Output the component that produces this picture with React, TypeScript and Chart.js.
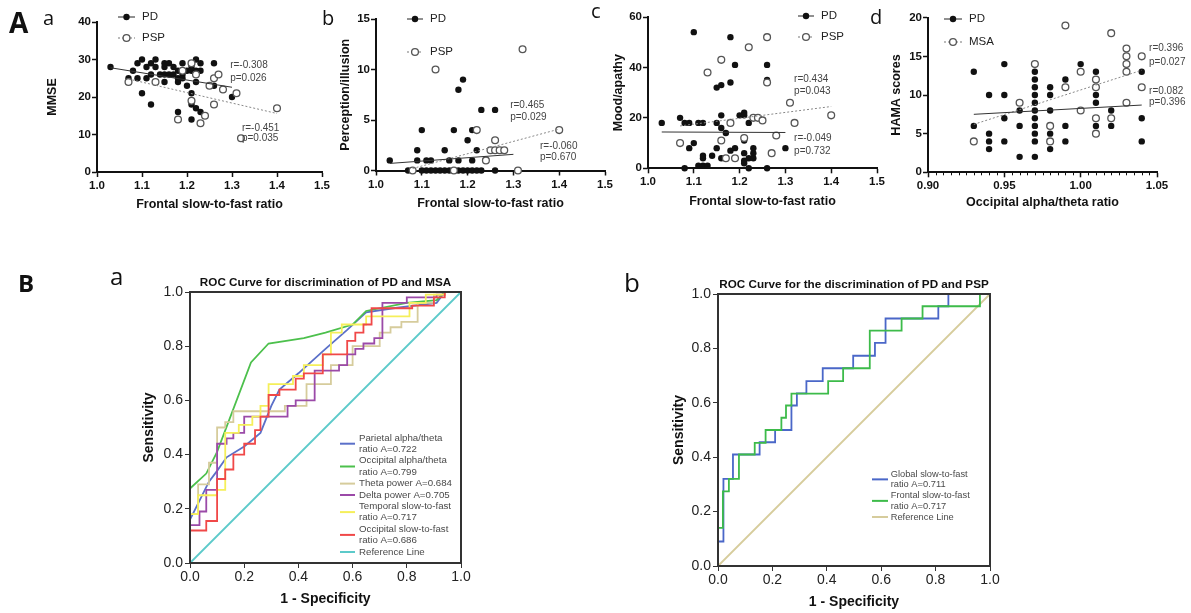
import React, { useEffect, useRef } from 'react';
import { Chart, registerables } from 'chart.js';

Chart.register(...registerables);

const W = 1191;
const H = 613;
const FONT = '"Liberation Sans", Arial, Helvetica, sans-serif';
const LETTER_FONT = '"Open Sans", "Noto Sans", sans-serif';

// ---------------- Panel A-a : MMSE ----------------
const aPD = [
  [1.03, 28], [1.07, 25], [1.08, 27], [1.09, 29], [1.09, 25], [1.10, 30], [1.10, 21],
  [1.11, 28], [1.11, 25], [1.12, 29], [1.12, 26], [1.12, 18], [1.13, 30], [1.13, 28],
  [1.14, 26], [1.15, 29], [1.15, 28], [1.15, 26], [1.15, 24], [1.16, 29], [1.16, 26],
  [1.17, 28], [1.17, 26], [1.18, 27], [1.18, 25], [1.18, 24], [1.18, 16], [1.19, 29],
  [1.19, 26], [1.19, 25], [1.20, 27], [1.20, 23], [1.21, 28], [1.21, 27], [1.21, 21],
  [1.21, 18], [1.21, 14], [1.22, 30], [1.22, 27], [1.22, 24], [1.22, 17], [1.23, 29],
  [1.23, 27], [1.23, 16], [1.26, 29], [1.26, 23], [1.30, 20],
];
const aPSP = [
  [1.07, 24], [1.13, 24], [1.18, 14], [1.19, 27], [1.21, 29], [1.21, 19], [1.22, 26],
  [1.23, 13], [1.24, 15], [1.25, 23], [1.26, 25], [1.26, 18], [1.27, 26], [1.28, 22],
  [1.31, 21], [1.32, 9], [1.40, 17],
];
const aPDFit = [[1.03, 27.8], [1.30, 22.6]];
const aPSPFit = [[1.07, 24.8], [1.40, 15.6]];
const aNotes = [
  { x: 1.296, y: 28.5, text: 'r=-0.308' },
  { x: 1.296, y: 25.1, text: 'p=0.026' },
  { x: 1.322, y: 11.7, text: 'r=-0.451' },
  { x: 1.322, y: 9.0, text: 'p=0.035' },
];

// ---------------- Panel A-b : Perception/illusion ----------------
const bPD = [
  [1.03, 1], [1.07, 0], [1.08, 0], [1.09, 1], [1.09, 2], [1.10, 4], [1.10, 0], [1.11, 1],
  [1.12, 1], [1.11, 0], [1.12, 0], [1.13, 0], [1.14, 0], [1.15, 0], [1.15, 2], [1.16, 1],
  [1.16, 0], [1.17, 4], [1.18, 8], [1.18, 1], [1.18, 0], [1.19, 9], [1.19, 0], [1.20, 3],
  [1.20, 0], [1.21, 4], [1.21, 1], [1.21, 0], [1.22, 2], [1.22, 0], [1.23, 6], [1.23, 0],
  [1.26, 6], [1.26, 0],
];
const bPSP = [
  [1.08, 0], [1.13, 10], [1.17, 0], [1.22, 4], [1.24, 1], [1.25, 2], [1.26, 2], [1.26, 3],
  [1.27, 2], [1.28, 2], [1.31, 0], [1.32, 12], [1.40, 4],
];
const bPDFit = [[1.03, 0.7], [1.30, 1.6]];
const bPSPFit = [[1.08, 0.2], [1.40, 4.1]];
const bNotes = [
  { x: 1.293, y: 6.5, text: 'r=0.465' },
  { x: 1.293, y: 5.3, text: 'p=0.029' },
  { x: 1.358, y: 2.45, text: 'r=-0.060' },
  { x: 1.358, y: 1.35, text: 'p=0.670' },
];

// ---------------- Panel A-c : Mood/apathy ----------------
const cPD = [
  [1.03, 18], [1.07, 20], [1.08, 18], [1.08, 0], [1.09, 18], [1.09, 8], [1.10, 54], [1.10, 10],
  [1.11, 18], [1.12, 18], [1.11, 1], [1.12, 1], [1.13, 1], [1.12, 4], [1.12, 5], [1.14, 5],
  [1.15, 8], [1.15, 18], [1.15, 32], [1.16, 33], [1.16, 21], [1.16, 16], [1.17, 14], [1.16, 4],
  [1.17, 4], [1.18, 34], [1.18, 52], [1.19, 41], [1.18, 7], [1.19, 8], [1.20, 21], [1.21, 22],
  [1.21, 21], [1.21, 11], [1.21, 6], [1.21, 3], [1.21, 2], [1.22, 18], [1.22, 0], [1.23, 8],
  [1.23, 6], [1.22, 4], [1.23, 4], [1.26, 41], [1.26, 35], [1.26, 0], [1.30, 8],
];
const cPSP = [
  [1.07, 10], [1.13, 38], [1.16, 43], [1.16, 11], [1.17, 4], [1.18, 18], [1.19, 4], [1.21, 12],
  [1.22, 48], [1.23, 20], [1.24, 20], [1.25, 19], [1.26, 52], [1.26, 34], [1.27, 6], [1.28, 13],
  [1.31, 26], [1.32, 18], [1.40, 21],
];
const cPDFit = [[1.03, 14.4], [1.30, 14.2]];
const cPSPFit = [[1.07, 16.8], [1.40, 24.5]];
const cNotes = [
  { x: 1.319, y: 35.5, text: 'r=0.434' },
  { x: 1.319, y: 30.7, text: 'p=0.043' },
  { x: 1.319, y: 12.0, text: 'r=-0.049' },
  { x: 1.319, y: 6.9, text: 'p=0.732' },
];

// ---------------- Panel A-d : HAMA scores ----------------
const dPD = [
  [0.93, 13], [0.93, 6],
  [0.94, 10], [0.94, 5], [0.94, 4], [0.94, 3],
  [0.95, 14], [0.95, 10], [0.95, 7], [0.95, 4],
  [0.96, 8], [0.96, 6], [0.96, 2],
  [0.97, 13], [0.97, 12], [0.97, 11], [0.97, 10], [0.97, 9], [0.97, 8], [0.97, 7], [0.97, 6],
  [0.97, 5], [0.97, 4], [0.97, 2],
  [0.98, 11], [0.98, 10], [0.98, 8], [0.98, 6], [0.98, 5], [0.98, 4], [0.98, 3],
  [0.99, 12], [0.99, 6], [0.99, 4],
  [1.00, 14],
  [1.01, 13], [1.01, 12], [1.01, 10], [1.01, 9], [1.01, 7], [1.01, 6],
  [1.02, 8], [1.02, 6],
  [1.04, 13], [1.04, 7], [1.04, 4],
];
const dMSA = [
  [0.93, 4], [0.96, 9], [0.97, 14], [0.98, 6], [0.98, 4], [0.99, 19], [0.99, 11],
  [1.00, 13], [1.00, 8], [1.01, 12], [1.01, 11], [1.01, 7], [1.01, 5], [1.02, 18], [1.02, 7],
  [1.03, 16], [1.03, 15], [1.03, 14], [1.03, 13], [1.03, 9], [1.04, 15], [1.04, 11],
];
const dPDFit = [[0.93, 7.5], [1.04, 8.7]];
const dMSAFit = [[0.93, 6.2], [1.04, 13.2]];
const dNotes = [
  { x: 1.0448, y: 16.0, text: 'r=0.396' },
  { x: 1.0448, y: 14.3, text: 'p=0.027' },
  { x: 1.0448, y: 10.5, text: 'r=0.082' },
  { x: 1.0448, y: 9.0, text: 'p=0.396' },
];

// ---------------- Panel B-a : ROC PD vs MSA ----------------
const rocMsaParietal = [
  [0, 0], [0, 0.16], [0.03, 0.22], [0.07, 0.3], [0.1, 0.34], [0.135, 0.39], [0.2, 0.43],
  [0.26, 0.48], [0.3, 0.58], [0.33, 0.64], [0.4, 0.7], [0.5, 0.79], [0.58, 0.86],
  [0.65, 0.925], [0.75, 0.94], [0.91, 0.96], [0.94, 1], [1, 1],
];
const rocMsaOccAlpha = [
  [0, 0], [0, 0.275], [0.06, 0.33], [0.1, 0.41], [0.225, 0.74], [0.29, 0.81], [0.42, 0.83],
  [0.5, 0.85], [0.6, 0.88], [0.65, 0.93], [0.8, 0.96], [0.91, 0.97], [0.94, 1], [1, 1],
];
const rocMsaTheta = [
  [0, 0], [0, 0.18], [0.03, 0.29], [0.07, 0.37], [0.1, 0.5], [0.13, 0.52], [0.16, 0.56],
  [0.35, 0.58], [0.43, 0.66], [0.52, 0.73], [0.6, 0.8], [0.7, 0.85], [0.74, 0.87],
  [0.78, 0.89], [0.84, 0.96], [0.9, 0.99], [0.94, 1], [1, 1],
];
const rocMsaDelta = [
  [0, 0], [0, 0.14], [0.035, 0.19], [0.06, 0.27], [0.1, 0.44], [0.135, 0.46], [0.16, 0.48],
  [0.2, 0.54], [0.36, 0.58], [0.39, 0.6], [0.46, 0.71], [0.55, 0.73], [0.58, 0.77],
  [0.61, 0.79], [0.64, 0.81], [0.68, 0.83], [0.71, 0.96], [0.8, 0.98], [0.91, 0.99],
  [0.94, 1], [1, 1],
];
const rocMsaTemporal = [
  [0, 0], [0, 0.18], [0.03, 0.25], [0.1, 0.27], [0.13, 0.48], [0.18, 0.51], [0.23, 0.54],
  [0.26, 0.58], [0.29, 0.66], [0.38, 0.69], [0.42, 0.73], [0.49, 0.77], [0.52, 0.85],
  [0.56, 0.88], [0.65, 0.91], [0.81, 0.96], [0.87, 0.99], [0.94, 1], [1, 1],
];
const rocMsaOccSlow = [
  [0, 0], [0, 0.12], [0.06, 0.155], [0.1, 0.31], [0.13, 0.345], [0.16, 0.4], [0.2, 0.44],
  [0.24, 0.49], [0.26, 0.54], [0.29, 0.62], [0.33, 0.64], [0.39, 0.68], [0.42, 0.7],
  [0.49, 0.77], [0.58, 0.82], [0.61, 0.85], [0.64, 0.88], [0.67, 0.94], [0.82, 0.95],
  [0.9, 0.98], [0.94, 1], [1, 1],
];
const rocReference = [[0, 0], [1, 1]];

// ---------------- Panel B-b : ROC PD vs PSP ----------------
const rocPspGlobal = [
  [0, 0], [0, 0.09], [0.02, 0.32], [0.055, 0.41], [0.153, 0.455], [0.21, 0.5], [0.27, 0.59],
  [0.29, 0.635], [0.325, 0.68], [0.385, 0.727], [0.497, 0.773], [0.577, 0.82], [0.616, 0.91],
  [0.81, 0.955], [0.847, 1], [1, 1],
];
const rocPspFrontal = [
  [0, 0], [0, 0.14], [0.018, 0.274], [0.04, 0.32], [0.077, 0.41], [0.135, 0.453], [0.175, 0.5],
  [0.233, 0.545], [0.25, 0.59], [0.27, 0.634], [0.405, 0.68], [0.46, 0.727], [0.558, 0.865],
  [0.675, 0.91], [0.752, 0.955], [0.963, 1], [1, 1],
];

// ---------------- helpers ----------------
const xy = (a: number[][]) => a.map(([x, y]) => ({ x, y }));

type Box = { L: number; R: number; T: number; B: number; wy: number; hx: number };
type LegendItem = { label: string; open: boolean };
type RocItem = { lines: string[]; color: string };
type Decor = {
  legend?: { dx: number; rows: number[]; len: number; items: LegendItem[] };
  notes?: { x: number; y: number; text: string }[];
  minorX?: { from: number; to: number; step: number };
  frame?: boolean;
  title?: string;
  rocLegend?: { dx: number; len: number; textDx: number; y0: number; lineH: number; size: number; items: RocItem[] };
};

function makeDecor(spec: Decor) {
  return {
    id: 'decor',
    afterDatasetsDraw(chart: any) {
      const { ctx, chartArea: ca, scales } = chart;
      const xs = scales.x;
      const ys = scales.y;
      ctx.save();
      if (spec.frame) {
        ctx.strokeStyle = '#333';
        ctx.lineWidth = 2;
        ctx.strokeRect(ca.left, ca.top, ca.right - ca.left, ca.bottom - ca.top);
      }
      if (spec.minorX) {
        const m = spec.minorX;
        ctx.strokeStyle = '#111';
        ctx.lineWidth = 1;
        const n = Math.round((m.to - m.from) / m.step);
        for (let i = 1; i < n; i++) {
          if (i % 10 === 0) continue;
          const px = Math.round(xs.getPixelForValue(m.from + i * m.step)) + 0.5;
          ctx.beginPath();
          ctx.moveTo(px, ca.bottom);
          ctx.lineTo(px, ca.bottom + 3);
          ctx.stroke();
        }
      }
      if (spec.title) {
        ctx.fillStyle = '#111';
        ctx.font = `bold 11.7px ${FONT}`;
        ctx.textAlign = 'center';
        ctx.textBaseline = 'middle';
        ctx.fillText(spec.title, (ca.left + ca.right) / 2, ca.top - 9);
      }
      if (spec.notes) {
        ctx.fillStyle = '#444';
        ctx.font = `10px ${FONT}`;
        ctx.textAlign = 'left';
        ctx.textBaseline = 'middle';
        for (const n of spec.notes) {
          ctx.fillText(n.text, xs.getPixelForValue(n.x), ys.getPixelForValue(n.y));
        }
      }
      if (spec.legend) {
        const Lg = spec.legend;
        Lg.items.forEach((it, i) => {
          const y = ca.top + Lg.rows[i];
          const x0 = ca.left + Lg.dx;
          const x1 = x0 + Lg.len;
          const cx = (x0 + x1) / 2;
          ctx.strokeStyle = it.open ? '#777' : '#222';
          ctx.lineWidth = 1;
          ctx.setLineDash(it.open ? [2, 2] : []);
          ctx.beginPath();
          ctx.moveTo(x0, y);
          ctx.lineTo(x1, y);
          ctx.stroke();
          ctx.setLineDash([]);
          ctx.beginPath();
          ctx.arc(cx, y, it.open ? 3.4 : 3.2, 0, Math.PI * 2);
          if (it.open) {
            ctx.fillStyle = '#fff';
            ctx.fill();
            ctx.lineWidth = 1.3;
            ctx.strokeStyle = '#555';
            ctx.stroke();
          } else {
            ctx.fillStyle = '#111';
            ctx.fill();
          }
          ctx.fillStyle = '#222';
          ctx.font = `11.5px ${FONT}`;
          ctx.textAlign = 'left';
          ctx.textBaseline = 'middle';
          ctx.fillText(it.label, x1 + 7, y);
        });
      }
      if (spec.rocLegend) {
        const R = spec.rocLegend;
        let row = 0;
        ctx.font = `${R.size}px ${FONT}`;
        ctx.textAlign = 'left';
        ctx.textBaseline = 'middle';
        for (const it of R.items) {
          const yFirst = ca.top + R.y0 + row * R.lineH;
          const yMid = yFirst + ((it.lines.length - 1) * R.lineH) / 2;
          ctx.strokeStyle = it.color;
          ctx.lineWidth = 2;
          ctx.beginPath();
          ctx.moveTo(ca.left + R.dx, yMid);
          ctx.lineTo(ca.left + R.dx + R.len, yMid);
          ctx.stroke();
          ctx.fillStyle = '#4a4a4a';
          it.lines.forEach((t, k) => ctx.fillText(t, ca.left + R.textDx, yFirst + k * R.lineH));
          row += it.lines.length;
        }
      }
      ctx.restore();
    },
  };
}

function padFor(b: Box) {
  return { left: b.L - b.wy, right: W - b.R, top: b.T, bottom: H - b.B - b.hx };
}

type AxisSpec = { min: number; max: number; step: number; dec: number; title: string };

function scatterConfig(box: Box, xa: AxisSpec, ya: AxisSpec, datasets: any[], decor: Decor) {
  const tickFont = { family: FONT, size: 11.5, weight: 'bold' as const };
  const titleFont = { family: FONT, size: 12.5, weight: 'bold' as const };
  const grid = { drawOnChartArea: false, drawTicks: true, tickLength: 5, tickColor: '#111', tickWidth: 1.5, color: '#111' };
  const border = { display: true, color: '#111', width: 2 };
  return {
    type: 'scatter',
    data: { datasets },
    options: {
      responsive: false,
      animation: false,
      events: [],
      layout: { padding: padFor(box) },
      plugins: { legend: { display: false }, tooltip: { enabled: false }, title: { display: false } },
      scales: {
        x: {
          type: 'linear', min: xa.min, max: xa.max,
          afterFit: (s: any) => { s.height = box.hx; },
          ticks: { stepSize: xa.step, autoSkip: false, maxRotation: 0, padding: 2, color: '#111', font: tickFont, callback: (v: any) => Number(v).toFixed(xa.dec) },
          grid, border,
          title: { display: true, text: xa.title, color: '#111', padding: 0, font: titleFont },
        },
        y: {
          type: 'linear', min: ya.min, max: ya.max,
          afterFit: (s: any) => { s.width = box.wy; },
          ticks: { stepSize: ya.step, autoSkip: false, padding: 1, color: '#111', font: tickFont, callback: (v: any) => Number(v).toFixed(ya.dec) },
          grid, border,
          title: { display: true, text: ya.title, color: '#111', padding: 0, font: titleFont },
        },
      },
    },
    plugins: [makeDecor(decor)],
  };
}

function scatterSets(filled: number[][], open: number[][], fitFilled: number[][], fitOpen: number[][]) {
  return [
    { data: xy(fitFilled), showLine: true, borderColor: '#333', borderWidth: 1, pointRadius: 0, clip: false },
    { data: xy(fitOpen), showLine: true, borderColor: '#888', borderWidth: 1, borderDash: [2, 2], pointRadius: 0, clip: false },
    { data: xy(open), pointRadius: 3.4, pointBackgroundColor: '#fff', pointBorderColor: '#555', pointBorderWidth: 1.3, clip: false },
    { data: xy(filled), pointRadius: 3.2, pointBackgroundColor: '#111', pointBorderColor: '#111', pointBorderWidth: 0, clip: false },
  ];
}

function rocLine(data: number[][], color: string, stepped: any = false) {
  return { data: xy(data), showLine: true, stepped, borderColor: color, borderWidth: 1.8, pointRadius: 0, fill: false, tension: 0, clip: false };
}

function rocConfig(box: Box, datasets: any[], decor: Decor) {
  const tickFont = { family: FONT, size: 14 };
  const titleFont = { family: FONT, size: 14, weight: 'bold' as const };
  const grid = { drawOnChartArea: false, drawTicks: true, tickLength: 5, tickColor: '#333', tickWidth: 1, color: '#333' };
  const border = { display: true, color: '#333', width: 2 };
  const mk = (title: string, isX: boolean) => ({
    type: 'linear', min: 0, max: 1,
    afterFit: (s: any) => { if (isX) s.height = box.hx; else s.width = box.wy; },
    ticks: { stepSize: 0.2, autoSkip: false, maxRotation: 0, padding: isX ? 1 : 2, color: '#222', font: tickFont, callback: (v: any) => Number(v).toFixed(1) },
    grid, border,
    title: { display: true, text: title, color: '#111', padding: 0, font: titleFont },
  });
  return {
    type: 'scatter',
    data: { datasets },
    options: {
      responsive: false,
      animation: false,
      events: [],
      layout: { padding: padFor(box) },
      plugins: { legend: { display: false }, tooltip: { enabled: false }, title: { display: false } },
      scales: { x: mk('1 - Specificity', true), y: mk('Sensitivity', false) },
    },
    plugins: [makeDecor(decor)],
  };
}

// ---------------- chart configs ----------------
const configs: (() => any)[] = [
  () => scatterConfig(
    { L: 97, R: 322, T: 22, B: 172, wy: 52, hx: 40 },
    { min: 1.0, max: 1.5, step: 0.1, dec: 1, title: 'Frontal slow-to-fast ratio' },
    { min: 0, max: 40, step: 10, dec: 0, title: 'MMSE' },
    scatterSets(aPD, aPSP, aPDFit, aPSPFit),
    { notes: aNotes, legend: { dx: 21, rows: [-5, 16], len: 17, items: [{ label: 'PD', open: false }, { label: 'PSP', open: true }] } },
  ),
  () => scatterConfig(
    { L: 376, R: 605, T: 19, B: 170.5, wy: 38, hx: 40.5 },
    { min: 1.0, max: 1.5, step: 0.1, dec: 1, title: 'Frontal slow-to-fast ratio' },
    { min: 0, max: 15, step: 5, dec: 0, title: 'Perception/illusion' },
    scatterSets(bPD, bPSP, bPDFit, bPSPFit),
    { notes: bNotes, legend: { dx: 31, rows: [0, 33], len: 16, items: [{ label: 'PD', open: false }, { label: 'PSP', open: true }] } },
  ),
  () => scatterConfig(
    { L: 648, R: 877, T: 17, B: 168.3, wy: 37, hx: 40.6 },
    { min: 1.0, max: 1.5, step: 0.1, dec: 1, title: 'Frontal slow-to-fast ratio' },
    { min: 0, max: 60, step: 20, dec: 0, title: 'Mood/apathy' },
    scatterSets(cPD, cPSP, cPDFit, cPSPFit),
    { notes: cNotes, legend: { dx: 150, rows: [-1, 20], len: 16, items: [{ label: 'PD', open: false }, { label: 'PSP', open: true }] } },
  ),
  () => scatterConfig(
    { L: 928, R: 1157, T: 17.7, B: 172.3, wy: 38.5, hx: 38 },
    { min: 0.9, max: 1.05, step: 0.05, dec: 2, title: 'Occipital alpha/theta ratio' },
    { min: 0, max: 20, step: 5, dec: 0, title: 'HAMA scores' },
    scatterSets(dPD, dMSA, dPDFit, dMSAFit),
    {
      notes: dNotes,
      minorX: { from: 0.9, to: 1.05, step: 0.005 },
      legend: { dx: 16, rows: [1.3, 24.3], len: 18, items: [{ label: 'PD', open: false }, { label: 'MSA', open: true }] },
    },
  ),
  () => rocConfig(
    { L: 190, R: 461, T: 292, B: 563, wy: 49, hx: 45 },
    [
      rocLine(rocMsaOccSlow, '#f04848', 'before'),
      rocLine(rocMsaTemporal, '#f5ef5a', 'before'),
      rocLine(rocMsaDelta, '#9b4aa8', 'before'),
      rocLine(rocMsaTheta, '#d6cc9c', 'before'),
      rocLine(rocMsaOccAlpha, '#4cc04c'),
      rocLine(rocMsaParietal, '#5b70c9'),
      rocLine(rocReference, '#5ccaca'),
    ],
    {
      frame: true,
      title: 'ROC Curve for discrimination of PD and MSA',
      rocLegend: {
        dx: 150, len: 15, textDx: 169, y0: 146, lineH: 11.4, size: 9.7,
        items: [
          { lines: ['Parietal alpha/theta', 'ratio A=0.722'], color: '#5b70c9' },
          { lines: ['Occipital alpha/theta', 'ratio A=0.799'], color: '#4cc04c' },
          { lines: ['Theta power A=0.684'], color: '#d6cc9c' },
          { lines: ['Delta power A=0.705'], color: '#9b4aa8' },
          { lines: ['Temporal slow-to-fast', 'ratio A=0.717'], color: '#f5ef5a' },
          { lines: ['Occipital slow-to-fast', 'ratio A=0.686'], color: '#f04848' },
          { lines: ['Reference Line'], color: '#5ccaca' },
        ],
      },
    },
  ),
  () => rocConfig(
    { L: 718, R: 990, T: 294, B: 566, wy: 47, hx: 45 },
    [
      rocLine(rocPspFrontal, '#3dbb4a', 'before'),
      rocLine(rocPspGlobal, '#4a67c8', 'before'),
      rocLine(rocReference, '#d6cc9c'),
    ],
    {
      frame: true,
      title: 'ROC Curve for the discrimination of PD and PSP',
      rocLegend: {
        dx: 154, len: 16, textDx: 172.7, y0: 180, lineH: 10.75, size: 9.3,
        items: [
          { lines: ['Global slow-to-fast', 'ratio A=0.711'], color: '#4a67c8' },
          { lines: ['Frontal slow-to-fast', 'ratio A=0.717'], color: '#3dbb4a' },
          { lines: ['Reference Line'], color: '#d6cc9c' },
        ],
      },
    },
  ),
];

const letters = [
  { t: 'A', left: 9, top: 8, size: 28, weight: 700 },
  { t: 'a', left: 43, top: 8.2, size: 20, weight: 400 },
  { t: 'b', left: 322, top: 8.2, size: 20, weight: 400 },
  { t: 'c', left: 591, top: 0.5, size: 20, weight: 400 },
  { t: 'd', left: 870, top: 7.2, size: 20, weight: 400 },
  { t: 'B', left: 18, top: 270.7, size: 24, weight: 700 },
  { t: 'a', left: 110, top: 263.7, size: 24, weight: 400 },
  { t: 'b', left: 624, top: 269, size: 26, weight: 400 },
];

function ChartLayer({ make }: { make: () => any }) {
  const ref = useRef<HTMLCanvasElement>(null);
  useEffect(() => {
    const chart = new Chart(ref.current as HTMLCanvasElement, make());
    return () => chart.destroy();
  }, [make]);
  return (
    <canvas
      ref={ref}
      width={W}
      height={H}
      style={{ position: 'absolute', left: 0, top: 0, width: W, height: H, pointerEvents: 'none' }}
    />
  );
}

export default function App() {
  return (
    <div style={{ position: 'absolute', left: 0, top: 0, width: W, height: H, background: '#fff', overflow: 'hidden' }}>
      {configs.map((make, i) => (
        <ChartLayer key={i} make={make} />
      ))}
      {letters.map((l, i) => (
        <div
          key={'l' + i}
          style={{
            position: 'absolute', left: l.left, top: l.top, fontFamily: LETTER_FONT,
            fontSize: l.size, fontWeight: l.weight, lineHeight: 1, color: '#111', whiteSpace: 'nowrap',
          }}
        >
          {l.t}
        </div>
      ))}
    </div>
  );
}
